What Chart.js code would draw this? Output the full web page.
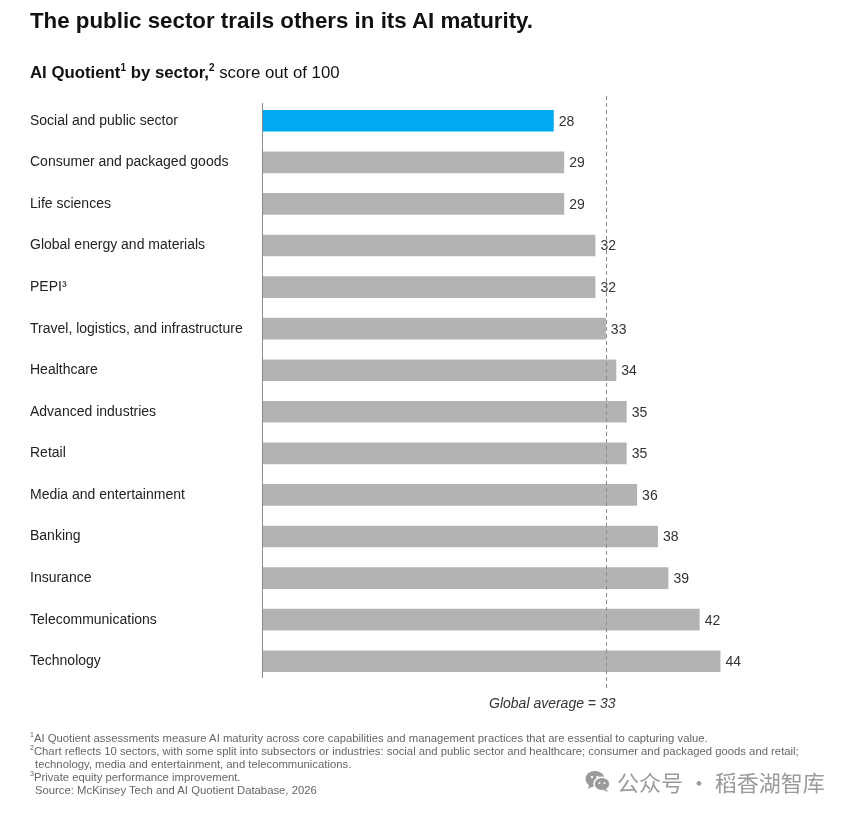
<!DOCTYPE html>
<html>
<head>
<meta charset="utf-8">
<script src="https://cdn.jsdelivr.net/npm/chart.js@4"></script>
<style>
  html, body { margin: 0; padding: 0; background: #fff; }
  body { width: 855px; height: 814px; position: relative; overflow: hidden; font-family: "Liberation Sans", Arial, sans-serif; }
  sup { line-height: 0; }
  #title { position: absolute; left: 30px; top: 8px; font-size: 22.3px; font-weight: bold; color: #111; }
  #subtitle { position: absolute; left: 30px; top: 63px; font-size: 16.8px; color: #111; }
  #subtitle sup { font-size: 10px; }
  #wrap { position: absolute; left: 0; top: 0; width: 855px; height: 814px; }
  #notes { position: absolute; left: 30px; top: 732px; font-size: 11.3px; line-height: 13px; color: #666; }
  #notes div.ind { padding-left: 5px; }
  #notes sup { font-size: 7px; }
  #wm { position: absolute; left: 585px; top: 765px; font-size: 22px; color: #9a9a9a; font-family: "Noto Sans CJK SC", sans-serif; display: flex; align-items: center; }
</style>
</head>
<body>
<div id="wrap"><canvas id="chart" width="855" height="814"></canvas></div>
<div id="title">The public sector trails others in its AI maturity.</div>
<div id="subtitle"><b>AI Quotient<sup>1</sup> by sector,<sup>2</sup></b> score out of 100</div>
<div id="notes">
  <div><sup>1</sup>AI Quotient assessments measure AI maturity across core capabilities and management practices that are essential to capturing value.</div>
  <div><sup>2</sup>Chart reflects 10 sectors, with some split into subsectors or industries: social and public sector and healthcare; consumer and packaged goods and retail;</div>
  <div class="ind">technology, media and entertainment, and telecommunications.</div>
  <div><sup>3</sup>Private equity performance improvement.</div>
  <div class="ind">Source: McKinsey Tech and AI Quotient Database, 2026</div>
</div>
<div id="wm">
  <svg width="26" height="24" viewBox="0 0 26 24">
    <ellipse cx="10" cy="10" rx="9.5" ry="8" fill="#9a9a9a"/>
    <path d="M4 16 L3 20 L8 17 Z" fill="#9a9a9a"/>
    <ellipse cx="17" cy="15" rx="8" ry="6.8" fill="#9a9a9a" stroke="#fff" stroke-width="1.5"/>
    <path d="M21 20 L23 23 L18 21 Z" fill="#9a9a9a"/>
    <circle cx="7" cy="8" r="1.2" fill="#fff"/><circle cx="12.5" cy="8" r="1.2" fill="#fff"/>
    <circle cx="14.5" cy="14" r="1" fill="#fff"/><circle cx="19.5" cy="14" r="1" fill="#fff"/>
  </svg>
  <span style="margin-left:6px">公众号 · 稻香湖智库</span>
</div>
<script>
const sectors = [
  'Social and public sector',
  'Consumer and packaged goods',
  'Life sciences',
  'Global energy and materials',
  'PEPI³',
  'Travel, logistics, and infrastructure',
  'Healthcare',
  'Advanced industries',
  'Retail',
  'Media and entertainment',
  'Banking',
  'Insurance',
  'Telecommunications',
  'Technology'
];
const scores = [28, 29, 29, 32, 32, 33, 34, 35, 35, 36, 38, 39, 42, 44];
const globalAverage = 33;
const highlightSector = 'Social and public sector';

const barColors = sectors.map(s => s === highlightSector ? '#00a9f0' : '#b3b3b3');

// value labels at the end of each bar
const valueLabels = {
  id: 'valueLabels',
  afterDatasetsDraw(chart) {
    const ctx = chart.ctx;
    const meta = chart.getDatasetMeta(0);
    ctx.save();
    ctx.font = '14px "Liberation Sans", Arial, sans-serif';
    ctx.fillStyle = '#333';
    ctx.textBaseline = 'middle';
    ctx.textAlign = 'left';
    meta.data.forEach((bar, i) => {
      ctx.fillText(String(scores[i]), bar.x + 5, bar.y + 1);
    });
    ctx.restore();
  }
};

// baseline at zero, dashed global-average line plus its caption
const avgLine = {
  id: 'avgLine',
  afterDatasetsDraw(chart) {
    const ctx = chart.ctx;
    const area = chart.chartArea;
    const x0 = Math.round(chart.scales.x.getPixelForValue(0)) + 0.5;
    const x = Math.round(chart.scales.x.getPixelForValue(globalAverage)) + 0.5;
    ctx.save();
    ctx.lineWidth = 1;
    ctx.strokeStyle = '#8a8a8a';
    ctx.beginPath();
    ctx.moveTo(x0, area.top + 3);
    ctx.lineTo(x0, area.bottom - 4);
    ctx.stroke();

    ctx.strokeStyle = '#8c8c8c';
    ctx.setLineDash([4, 3]);
    ctx.beginPath();
    ctx.moveTo(x, area.top - 4);
    ctx.lineTo(x, area.bottom + 8);
    ctx.stroke();
    ctx.setLineDash([]);
    ctx.font = 'italic 14px "Liberation Sans", Arial, sans-serif';
    ctx.fillStyle = '#333';
    ctx.textAlign = 'right';
    ctx.textBaseline = 'middle';
    ctx.fillText('Global average = ' + globalAverage, x + 9, area.bottom + 22);
    ctx.restore();
  }
};

new Chart(document.getElementById('chart').getContext('2d'), {
  type: 'bar',
  data: {
    labels: sectors,
    datasets: [{
      data: scores,
      backgroundColor: barColors,
      borderWidth: 0,
      barPercentage: 0.52,
      categoryPercentage: 1
    }]
  },
  options: {
    indexAxis: 'y',
    responsive: false,
    animation: false,
    devicePixelRatio: 1,
    layout: { padding: { left: 30, top: 100, right: 72, bottom: 132 } },
    plugins: {
      legend: { display: false },
      tooltip: { enabled: false }
    },
    scales: {
      x: { display: false, min: 0, max: 50 },
      y: {
        afterFit(scale) { scale.width = 232; },
        grid: { display: false },
        border: { display: false },
        ticks: {
          crossAlign: 'far',
          color: '#222',
          padding: 0,
          font: { family: '"Liberation Sans", Arial, sans-serif', size: 14 }
        }
      }
    }
  },
  plugins: [valueLabels, avgLine]
});
</script>
</body>
</html>
